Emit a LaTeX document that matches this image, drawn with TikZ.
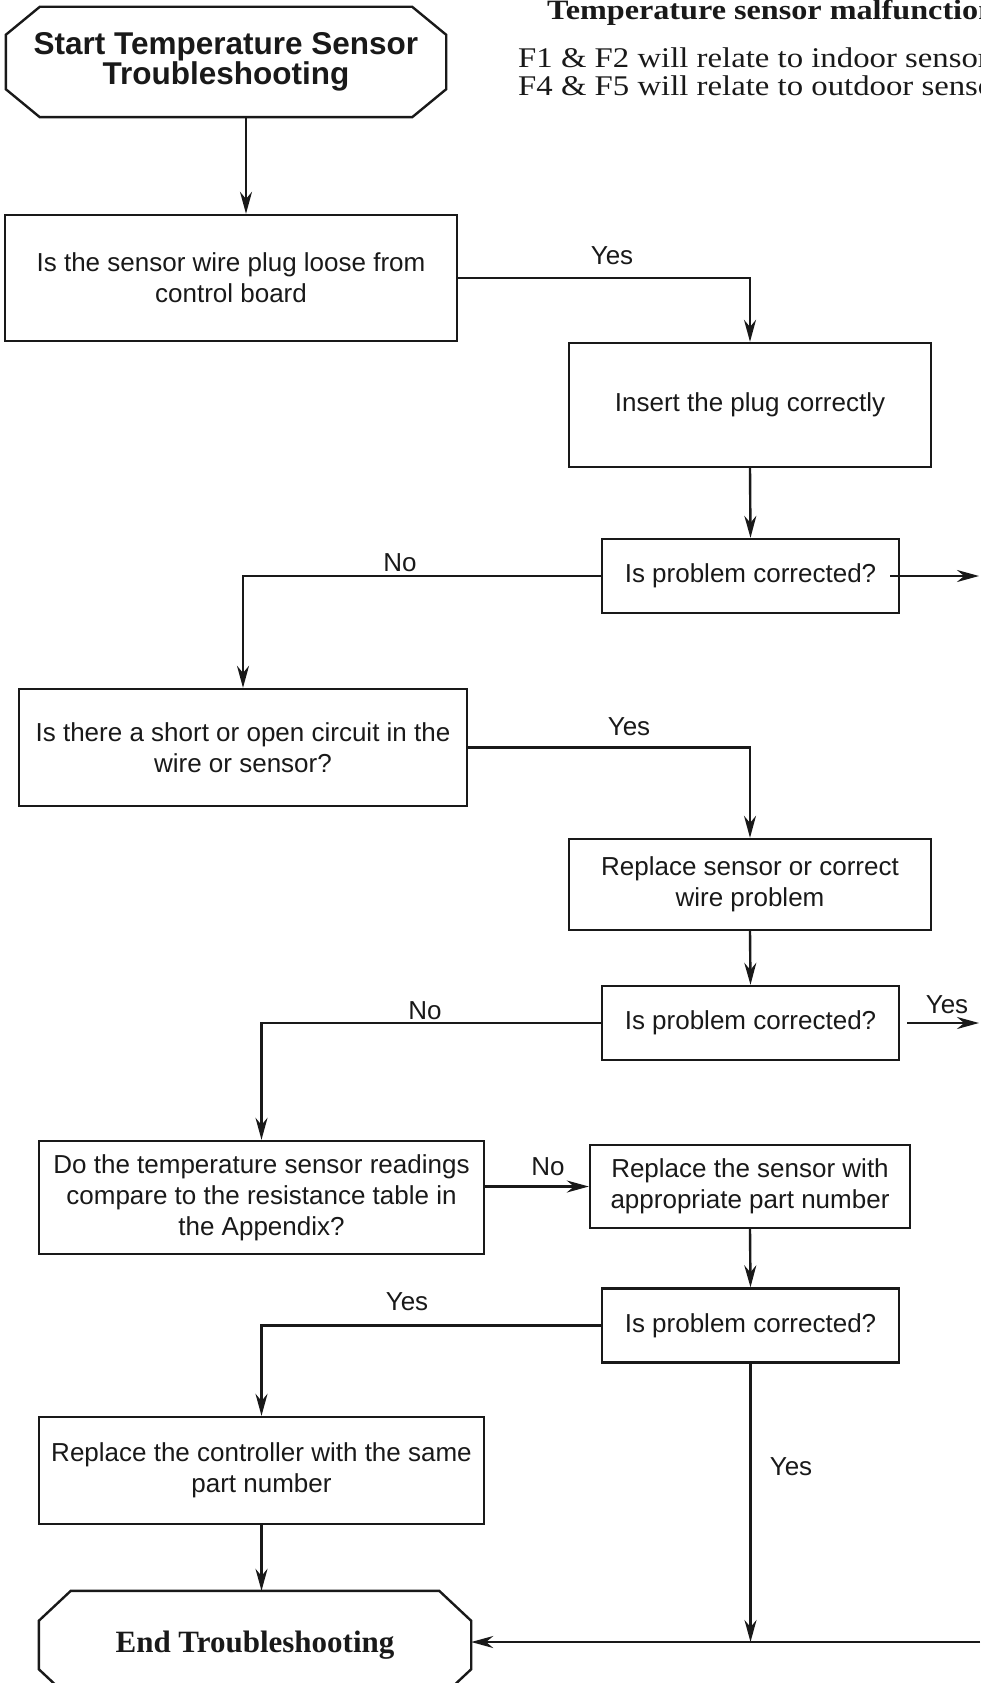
\documentclass[tikz,border=0pt]{standalone}
\usepackage{fontspec}
\setmainfont{Liberation Serif}
\setsansfont{Liberation Sans}
\newfontfamily\notefont[FakeStretch=1.15]{Liberation Serif}
\usetikzlibrary{arrows.meta}

\begin{document}
\begin{tikzpicture}[
    x=1pt, y=-1pt,
    >={Stealth[length=22pt, width=12pt]},
    box/.style={
        rectangle,
        draw=black!90,
        line width=2.4pt,
        inner sep=0pt,
        align=center,
        text=black!90,
        font=\sffamily\fontsize{26}{31}\selectfont
    },
    widebox/.style={box, minimum width=445pt, minimum height=113pt},
    fixbox/.style={box, minimum width=362pt, minimum height=124pt},
    askbox/.style={box, minimum width=297pt, minimum height=74pt},
    termbox/.style={rectangle, inner sep=0pt, align=center, text=black!90},
    octa/.style={draw=black!90, line width=2.4pt},
    lbl/.style={inner sep=0pt, text=black!90, font=\sffamily\fontsize{26}{31}\selectfont},
    note/.style={anchor=base west, inner sep=0pt, text=black!90, font=\notefont\fontsize{28.5}{28}\selectfont},
    arrow/.style={->, line width=2.4pt, draw=black!90}
]
\useasboundingbox (0,0) rectangle (980,1683);
\clip (0,0) rectangle (980,1683);

% notes at the top right
\node[note, font=\notefont\bfseries\fontsize{28}{36}\selectfont] (head) at (547,20) {Temperature sensor malfunction};
\node[note] (indoor) at (518,68) {F1 \& F2 will relate to indoor sensor};
\node[note] (outdoor) at (518,96) {F4 \& F5 will relate to outdoor sensor};

% start terminal
\node[termbox, minimum width=440pt, minimum height=110pt, font=\sffamily\bfseries\fontsize{31.5}{30}\selectfont] (start) at (226,62) {Start Temperature Sensor\\Troubleshooting};
\draw[octa] ([xshift=34pt]start.north west) -- ([xshift=-34pt]start.north east) -- ([yshift=-28pt]start.north east) -- ([yshift=28pt]start.south east) -- ([xshift=-34pt]start.south east) -- ([xshift=34pt]start.south west) -- ([yshift=28pt]start.south west) -- ([yshift=-28pt]start.north west) -- cycle;

\node[widebox, minimum width=452pt, minimum height=126pt] (plug) at (231,278) {Is the sensor wire plug loose from\\control board};
\node[fixbox] (insert) at (750,405) {Insert the plug correctly};
\node[askbox] (check1) at (750.5,576) {Is problem corrected?};
\node[widebox, minimum width=448pt, minimum height=117pt] (short) at (243,747.5) {Is there a short or open circuit in the\\wire or sensor?};
\node[fixbox, minimum height=91pt] (repair) at (750,884.5) {Replace sensor or correct\\wire problem};
\node[askbox] (check2) at (750.5,1023) {Is problem corrected?};
\node[widebox] (table) at (261.5,1197.5) {Do the temperature sensor readings\\compare to the resistance table in\\the Appendix?};
\node[box, minimum width=320pt, minimum height=83pt] (newsensor) at (750,1186.5) {Replace the sensor with\\appropriate part number};
\node[askbox] (check3) at (750.5,1325.5) {Is problem corrected?};
\node[widebox, minimum height=107pt] (controller) at (261.5,1470.5) {Replace the controller with the same\\part number};

% end terminal
\node[termbox, minimum width=432pt, minimum height=108pt, font=\rmfamily\bfseries\fontsize{31}{36}\selectfont] (finish) at (255,1645) {End Troubleshooting};
\draw[octa] ([xshift=32pt]finish.north west) -- ([xshift=-32pt]finish.north east) -- ([yshift=-30pt]finish.north east) -- ([yshift=30pt]finish.south east) -- ([xshift=-32pt]finish.south east) -- ([xshift=32pt]finish.south west) -- ([yshift=30pt]finish.south west) -- ([yshift=-30pt]finish.north west) -- cycle;

\coordinate (edge) at (979,0);
\coordinate (back) at (980,1642);

\draw[arrow] ([xshift=20pt]start.south) -- ([xshift=20pt]start.south |- plug.north);
\draw[arrow] (plug.east) -| (insert.north);
\node[lbl] (yes1) at (612,256) {Yes};
\draw[arrow] (insert.south) -- (check1.north);
\draw[arrow] ([xshift=-10pt]check1.east) -- (check1.east -| edge);
\draw[arrow] (check1.west) -| (short.north);
\node[lbl] (no1) at (400,563) {No};
\draw[arrow] (short.east) -| (repair.north);
\node[lbl] (yes2) at (629,727) {Yes};
\draw[arrow] (repair.south) -- (check2.north);
\draw[arrow] ([xshift=7pt]check2.east) -- (check2.east -| edge);
\node[lbl] (yes3) at (947,1005) {Yes};
\draw[arrow] (check2.west) -| (table.north);
\node[lbl] (no2) at (425,1011) {No};
\draw[arrow] (table.east |- newsensor.west) -- (newsensor.west);
\node[lbl] (no3) at (548,1167) {No};
\draw[arrow] (newsensor.south) -- (check3.north);
\draw[arrow] (check3.west) -| (controller.north);
\node[lbl] (yes4) at (407,1302) {Yes};
\draw[arrow] (controller.south) -- (controller.south |- finish.north);
\draw[arrow] (check3.south) -- (check3.south |- back);
\node[lbl] (yes5) at (791,1467) {Yes};
\draw[arrow] (back) -- (finish.east |- back);

\end{tikzpicture}
\end{document}
